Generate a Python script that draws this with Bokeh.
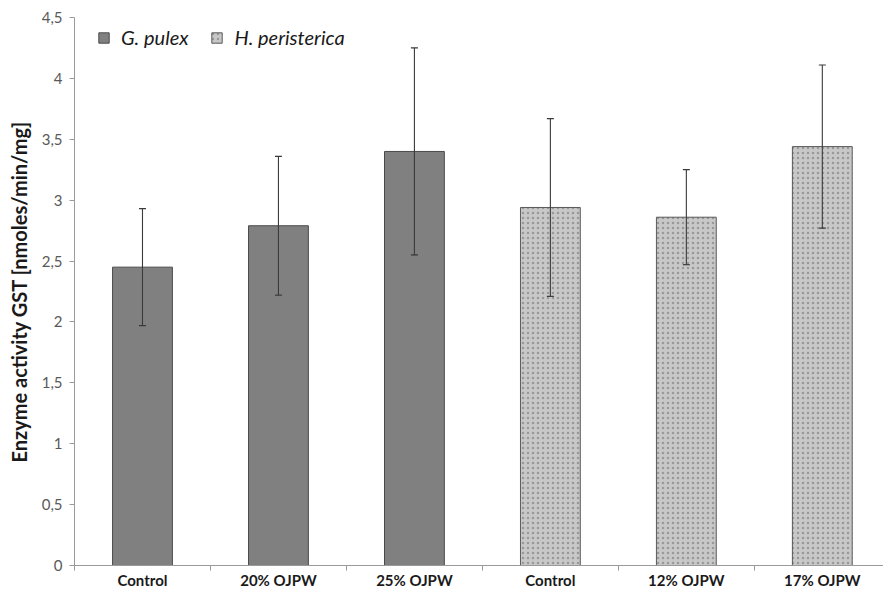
from bokeh.plotting import figure
from bokeh.models import (ColumnDataSource, Range1d, FixedTicker, Whisker, TeeHead,
                          Legend, LegendItem)
from bokeh.embed import file_html
from bokeh.resources import INLINE

# ---- data ----
categories = ["Control", "20% OJPW", "25% OJPW", "Control", "12% OJPW", "17% OJPW"]
series_names = ["G. pulex", "H. peristerica"]
g_values = [2.45, 2.79, 3.40]
g_err = [0.48, 0.57, 0.85]
h_values = [2.94, 2.86, 3.44]
h_err = [0.73, 0.39, 0.67]
y_ticks = [0, 0.5, 1, 1.5, 2, 2.5, 3, 3.5, 4, 4.5]
y_title = "Enzyme activity GST [nmoles/min/mg]"

FONT = "Lato"

g_x = list(range(0, len(g_values)))
h_x = list(range(len(g_values), len(g_values) + len(h_values)))

g_src = ColumnDataSource(dict(x=g_x, top=g_values,
                              upper=[v + e for v, e in zip(g_values, g_err)],
                              lower=[v - e for v, e in zip(g_values, g_err)]))
h_src = ColumnDataSource(dict(x=h_x, top=h_values,
                              upper=[v + e for v, e in zip(h_values, h_err)],
                              lower=[v - e for v, e in zip(h_values, h_err)]))

p = figure(width=883, height=596, output_backend="svg", toolbar_location=None,
           x_range=Range1d(-0.5, 5.45), y_range=Range1d(0, 4.5),
           min_border_left=74, min_border_right=0, min_border_top=17,
           min_border_bottom=31)
p.outline_line_color = None
p.xgrid.visible = False
p.ygrid.visible = False
p.background_fill_color = "white"
p.border_fill_color = "white"

rg = p.vbar(x="x", top="top", width=0.44, source=g_src,
            fill_color="#808080", line_color="#4a4a4a", line_width=1)
rh = p.vbar(x="x", top="top", width=0.44, source=h_src,
            fill_color="#c8c8c8", line_color="#5a5a5a", line_width=1,
            hatch_pattern="dot", hatch_color="#999999", hatch_scale=5,
            hatch_weight=1)

for src in (g_src, h_src):
    w = Whisker(source=src, base="x", upper="upper", lower="lower",
                level="overlay",
                line_color="#3a3a3a", line_width=1.1,
                upper_head=TeeHead(size=7, line_color="#3a3a3a", line_width=1.2),
                lower_head=TeeHead(size=7, line_color="#3a3a3a", line_width=1.2))
    p.add_layout(w)

# x axis
xa = p.xaxis[0]
xa.ticker = FixedTicker(ticks=list(range(len(categories))),
                        minor_ticks=[i + 0.5 for i in range(-1, len(categories))])
xa.major_label_overrides = {i: c for i, c in enumerate(categories)}
xa.major_tick_line_color = None
xa.major_tick_in = 0
xa.major_tick_out = 0
xa.minor_tick_in = 0
xa.minor_tick_out = 5
xa.minor_tick_line_color = "#9a9a9a"
xa.axis_line_color = "#9a9a9a"
xa.major_label_text_font = FONT
xa.major_label_text_font_style = "bold"
xa.major_label_text_font_size = "15px"
xa.major_label_text_color = "#1a1a1a"
xa.major_label_standoff = 0

# y axis
ya = p.yaxis[0]
ya.ticker = FixedTicker(ticks=y_ticks)
ya.major_label_overrides = {t: f"{t:g}".replace(".", ",") for t in y_ticks}
ya.minor_tick_line_color = None
ya.major_tick_in = 0
ya.major_tick_out = 5
ya.major_tick_line_color = "#9a9a9a"
ya.axis_line_color = "#9a9a9a"
ya.major_label_text_font = FONT
ya.major_label_text_font_size = "15px"
ya.major_label_text_color = "#595959"
ya.major_label_standoff = 7
ya.axis_label = y_title
ya.axis_label_text_font = FONT
ya.axis_label_text_font_style = "bold"
ya.axis_label_text_font_size = "20px"
ya.axis_label_text_color = "#1a1a1a"
ya.axis_label_standoff = 8

legend = Legend(items=[LegendItem(label=series_names[0], renderers=[rg]),
                       LegendItem(label=series_names[1], renderers=[rh])],
                orientation="horizontal", location=(23, 516),
                padding=0, margin=0, spacing=22,
                glyph_width=13, glyph_height=13, label_standoff=11,
                label_text_font=FONT, label_text_font_style="italic",
                label_text_font_size="20px", label_text_color="#1a1a1a",
                border_line_color=None, background_fill_alpha=0)
p.add_layout(legend)

open("out.html", "w").write(file_html(p, INLINE))
